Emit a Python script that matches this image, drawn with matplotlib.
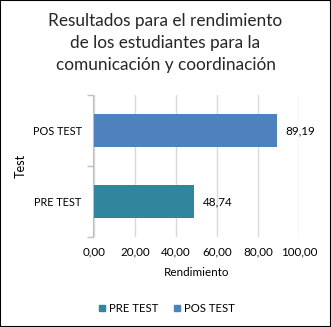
import matplotlib
matplotlib.use('Agg')
import matplotlib.pyplot as plt
from matplotlib.patches import Rectangle
from matplotlib.lines import Line2D

# Data
categories = ['PRE TEST', 'POS TEST']
values = [48.74, 89.19]
bar_colors = ['#31859C', '#4F81BD']
xticks = [0, 20, 40, 60, 80, 100]

plt.rcParams['font.family'] = ['Lato', 'DejaVu Sans']

W, H = 331, 327
fig = plt.figure(figsize=(W / 100, H / 100), dpi=100)

# plot area in pixels
left, right, top, bottom = 94, 299, 95, 237
ax = fig.add_axes([left / W, 1 - bottom / H, (right - left) / W, (bottom - top) / H])

pos = list(range(len(categories)))
ax.barh(pos, values, height=0.47, color=bar_colors, zorder=3)
for p, v in zip(pos, values):
    ax.text(v + 100 * 9 / (right - left), p, f'{v:.2f}'.replace('.', ','),
            va='center', ha='left', fontsize=8.4, color='#000000')

ax.set_xlim(0, 100)
ax.set_ylim(-0.5, 1.5)
ax.set_xticks(xticks)
ax.set_xticklabels([f'{t:.2f}'.replace('.', ',') for t in xticks])
ax.tick_params(axis='x', length=0, pad=7, labelsize=8.4)
ax.grid(axis='x', color='#D9D9D9', linewidth=1, zorder=0)

ax.set_yticks(pos)
ax.set_yticklabels(categories)
ax.set_yticks([-0.5, 0.5, 1.5], minor=True)
ax.tick_params(axis='y', which='major', length=0, pad=8, labelsize=7.8)
ax.tick_params(axis='y', which='minor', length=4, color='#BFBFBF', width=1)

for s in ['top', 'right', 'bottom']:
    ax.spines[s].set_visible(False)
ax.spines['left'].set_color('#BFBFBF')
ax.spines['left'].set_position(('outward', 1))

ax.set_xlabel('Rendimiento', fontsize=8.4, labelpad=7)
ax.set_ylabel('Test', fontsize=9.2, labelpad=4)

fig.text(0.5, 1 - 43 / H,
         'Resultados para el rendimiento\nde los estudiantes para la\ncomunicación y coordinación',
         ha='center', va='center', fontsize=12.4, linespacing=1.44, color='#262626')

handles = [Line2D([], [], marker='s', linestyle='none', markersize=4,
                  color=c) for c in bar_colors]
fig.legend(handles, categories, loc='center', bbox_to_anchor=(0.5, 1 - 308 / H),
           ncol=2, frameon=False, fontsize=8.2, handletextpad=0.1,
           columnspacing=1.2, handlelength=1.0)

# outer border
fig.patches.append(Rectangle((0, 0), 1, 1, transform=fig.transFigure,
                             fill=False, edgecolor='black', linewidth=1.5))

fig.savefig('out.png', dpi=100)
